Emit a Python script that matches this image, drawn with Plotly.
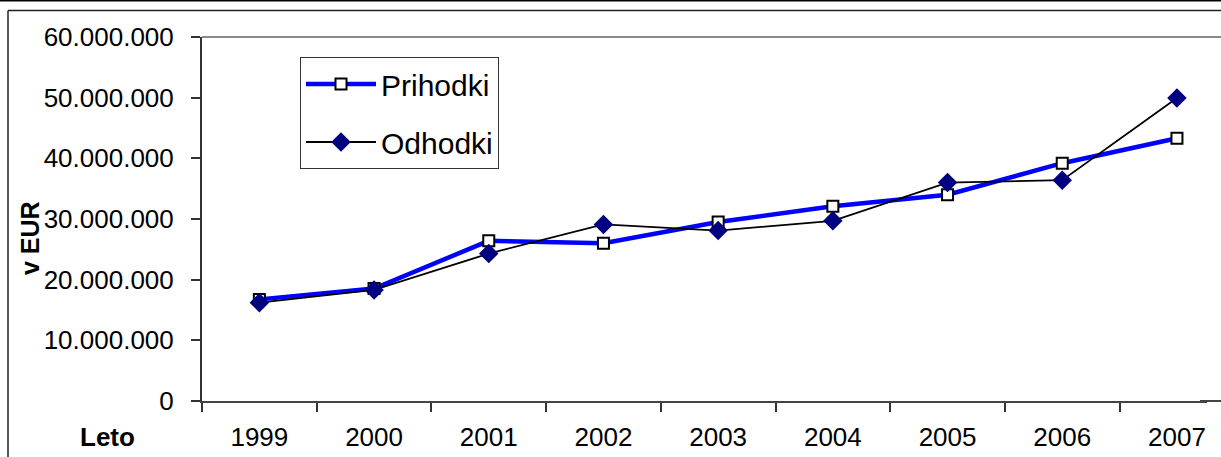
import plotly.graph_objects as go

leta = ["1999", "2000", "2001", "2002", "2003", "2004", "2005", "2006", "2007"]
prihodki = [16750000, 18550000, 26400000, 26000000, 29500000, 32100000, 34000000, 39200000, 43300000]
odhodki = [16200000, 18300000, 24300000, 29100000, 28100000, 29700000, 36000000, 36400000, 49950000]
y_ticks = [0, 10000000, 20000000, 30000000, 40000000, 50000000, 60000000]

W, H = 1221, 457
L, R, T, B = 202, 0, 37, 56
pw, ph = W - L - R, H - T - B

def px_x(x):
    return (x - L) / pw

def px_y(y):
    return (H - B - y) / ph

font = "Liberation Sans, Arial, sans-serif"

fig = go.Figure()
fig.add_trace(go.Scatter(
    x=leta, y=prihodki, mode="lines+markers", name="Prihodki",
    line=dict(color="#0000FF", width=4.5),
    marker=dict(symbol="square", size=11, color="white", line=dict(color="black", width=2)),
    legendgroup="a",
))
fig.add_trace(go.Scatter(
    x=leta, y=odhodki, mode="lines+markers", name="Odhodki",
    line=dict(color="black", width=1.8),
    marker=dict(symbol="diamond", size=15, color="#000080", line=dict(width=0)),
    legendgroup="b",
))

fig.update_layout(
    width=W, height=H,
    margin=dict(l=L, r=R, t=T, b=B),
    paper_bgcolor="white", plot_bgcolor="white",
    separators=",.",
    font=dict(family=font, size=26, color="black"),
    showlegend=True,
    legend=dict(
        x=px_x(300), y=px_y(57), xanchor="left", yanchor="top",
        bordercolor="#333333", borderwidth=1, bgcolor="white",
        font=dict(size=30), tracegroupgap=16, traceorder="grouped",
        itemwidth=70,
    ),
    xaxis=dict(
        type="category", range=[-0.5, 8.384], tickson="boundaries",
        ticks="outside", ticklen=9, tickcolor="#333333", tickwidth=1.5,
        showline=True, linecolor="#444444", linewidth=2, automargin=False,
        showgrid=False, zeroline=False, ticklabelstandoff=12,
    ),
    yaxis=dict(
        range=[0, 60000000], tickvals=y_ticks, tickformat=",d",
        ticks="outside", ticklen=9, tickcolor="#333333", tickwidth=1.5,
        showline=True, linecolor="#333333", linewidth=2, automargin=False,
        showgrid=False, zeroline=False, ticklabelstandoff=12,
    ),
    shapes=[
        # plot area top edge
        dict(type="line", xref="paper", yref="paper", x0=0, x1=1, y0=1, y1=1,
             line=dict(color="#888888", width=2)),
        # outer chart frame (top and left edges, rest is cropped)
        dict(type="line", xref="paper", yref="paper",
             x0=px_x(8), x1=px_x(W), y0=px_y(10.5), y1=px_y(10.5),
             line=dict(color="#222222", width=1.5)),
        dict(type="line", xref="paper", yref="paper",
             x0=px_x(8), x1=px_x(8), y0=px_y(10.5), y1=px_y(H),
             line=dict(color="#222222", width=1.5)),
        dict(type="line", xref="paper", yref="paper",
             x0=px_x(0), x1=px_x(W), y0=px_y(0.8), y1=px_y(0.8),
             line=dict(color="black", width=1.5)),
        # blank out the stray corner mark at the bottom right, then redraw the axis line
        dict(type="rect", xref="paper", yref="paper", layer="above",
             x0=px_x(1207), x1=px_x(W + 5), y0=px_y(H + 5), y1=px_y(392),
             fillcolor="white", line=dict(width=0)),
        dict(type="line", xref="paper", yref="paper", layer="above",
             x0=px_x(1200), x1=px_x(W + 5), y0=0, y1=0,
             line=dict(color="#444444", width=2)),
    ],
    annotations=[
        dict(text="<b>Leto</b>", xref="paper", yref="paper", x=px_x(107), y=px_y(437),
             xanchor="center", yanchor="middle", showarrow=False, font=dict(size=26)),
        dict(text="<b>v EUR</b>", xref="paper", yref="paper", x=px_x(30), y=px_y(238),
             xanchor="center", yanchor="middle", showarrow=False, textangle=-90,
             font=dict(size=25)),
    ],
)

# the page has a default 8px body margin; drop it so the figure fills the window
fig.write_html(
    "out.html",
    config={"displayModeBar": False},
    post_script=(
        "document.documentElement.style.overflow='hidden';"
        "document.body.style.margin='0';document.body.style.overflow='hidden';"
    ),
)
